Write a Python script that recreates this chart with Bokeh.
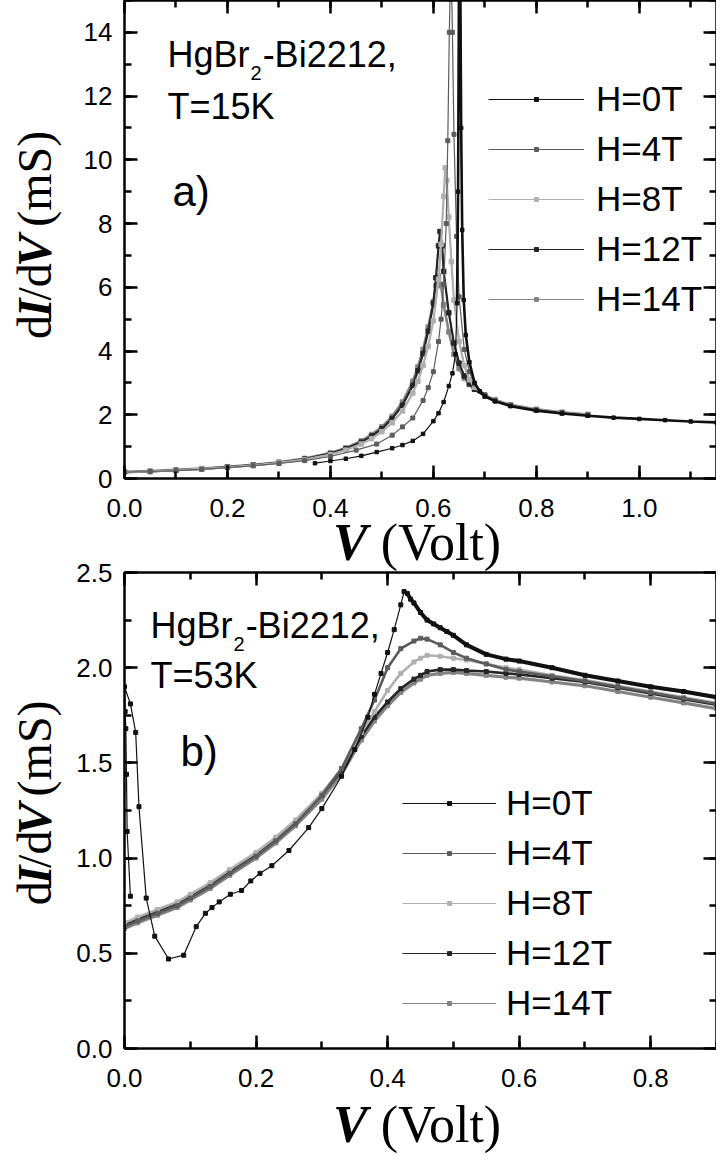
import math
from bokeh.plotting import figure
from bokeh.models import (Label, Legend, LegendItem, LinearAxis, SingleIntervalTicker,
                          PrintfTickFormatter, CustomJSTickFormatter, Range1d, ColumnDataSource)
from bokeh.layouts import column, row
from bokeh.embed import file_html
from bokeh.resources import INLINE

# ---------------- data ----------------
fields = ["H=0T", "H=4T", "H=8T", "H=12T", "H=14T"]

# panel a) T=15K
a_v_0 = [0.37, 0.40, 0.43, 0.46, 0.49, 0.52, 0.54, 0.56, 0.58, 0.60, 0.61, 0.62, 0.63, 0.637, 0.643,
         0.646, 0.648, 0.650, 0.652, 0.654, 0.656, 0.659, 0.663, 0.67, 0.68, 0.69, 0.70, 0.72, 0.75,
         0.80, 0.85, 0.90, 0.95, 1.00, 1.05, 1.10, 1.15]
a_g_0 = [0.48, 0.55, 0.62, 0.71, 0.83, 0.95, 1.05, 1.18, 1.40, 1.80, 2.05, 2.40, 2.90, 3.30, 3.90,
         5.50, 9.00, 16.5, 16.5, 11.0, 7.80, 5.60, 4.50, 3.65, 3.00, 2.74, 2.58, 2.42, 2.27,
         2.13, 2.04, 1.97, 1.91, 1.87, 1.83, 1.79, 1.76]

a_v_4 = [0.00, 0.05, 0.10, 0.15, 0.20, 0.25, 0.30, 0.35, 0.40, 0.45, 0.49, 0.52, 0.54, 0.56, 0.58,
         0.59, 0.60, 0.61, 0.615, 0.62, 0.625, 0.628, 0.631, 0.634, 0.637, 0.64, 0.645, 0.65, 0.66,
         0.67, 0.68, 0.70, 0.72, 0.75, 0.80, 0.85, 0.90]
a_g_4 = [0.20, 0.22, 0.25, 0.29, 0.34, 0.40, 0.47, 0.56, 0.69, 0.89, 1.08, 1.36, 1.62, 1.90, 2.45,
         2.85, 3.35, 4.30, 5.00, 6.10, 8.00, 10.6, 14.0, 16.5, 14.0, 10.8, 7.60, 5.70, 4.05,
         3.35, 2.97, 2.63, 2.46, 2.31, 2.16, 2.07, 2.00]

a_v_8 = [0.00, 0.05, 0.10, 0.15, 0.20, 0.25, 0.30, 0.35, 0.40, 0.43, 0.46, 0.48, 0.50, 0.52, 0.54,
         0.56, 0.57, 0.58, 0.59, 0.60, 0.61, 0.615, 0.62, 0.623, 0.626, 0.63, 0.635, 0.64, 0.65,
         0.66, 0.67, 0.68, 0.70, 0.72, 0.75, 0.80, 0.85, 0.90]
a_g_8 = [0.20, 0.22, 0.26, 0.30, 0.35, 0.41, 0.49, 0.59, 0.75, 0.89, 1.08, 1.25, 1.47, 1.75, 2.12,
         2.68, 3.05, 3.55, 4.15, 4.95, 6.25, 7.35, 8.85, 9.75, 9.35, 8.20, 6.80, 5.60, 4.30,
         3.55, 3.10, 2.86, 2.61, 2.46, 2.31, 2.16, 2.07, 2.00]

a_v_12 = [0.00, 0.05, 0.10, 0.15, 0.20, 0.25, 0.30, 0.35, 0.40, 0.43, 0.46, 0.48, 0.50, 0.52, 0.54,
          0.56, 0.57, 0.58, 0.59, 0.60, 0.605, 0.61, 0.613, 0.617, 0.62, 0.63, 0.64, 0.65, 0.66,
          0.67, 0.68, 0.70, 0.72, 0.75, 0.80, 0.85, 0.90]
a_g_12 = [0.20, 0.22, 0.26, 0.30, 0.36, 0.42, 0.50, 0.61, 0.78, 0.93, 1.14, 1.33, 1.56, 1.88, 2.30,
          2.92, 3.38, 3.92, 4.62, 5.50, 6.30, 7.30, 7.75, 7.30, 6.50, 5.20, 4.25, 3.62, 3.22,
          2.97, 2.80, 2.59, 2.45, 2.30, 2.15, 2.06, 1.99]

a_v_14 = [0.00, 0.05, 0.10, 0.15, 0.20, 0.25, 0.30, 0.35, 0.40, 0.43, 0.46, 0.48, 0.50, 0.52, 0.54,
          0.56, 0.57, 0.58, 0.59, 0.60, 0.605, 0.61, 0.615, 0.62, 0.63, 0.64, 0.65, 0.66, 0.67,
          0.68, 0.70, 0.72, 0.75, 0.80, 0.85, 0.90]
a_g_14 = [0.20, 0.23, 0.27, 0.31, 0.37, 0.43, 0.51, 0.63, 0.80, 0.96, 1.18, 1.38, 1.62, 1.95, 2.40,
          3.05, 3.50, 4.05, 4.75, 5.55, 6.05, 6.35, 6.05, 5.45, 4.60, 3.90, 3.45, 3.15, 2.95,
          2.80, 2.60, 2.46, 2.31, 2.17, 2.08, 2.01]

# panel b) T=53K
b_v_0 = [0.009, 0.004, 0.003, 0.002, 0.001, 0.000, 0.009, 0.017, 0.022, 0.033, 0.046, 0.067, 0.090,
         0.109, 0.123, 0.133, 0.144, 0.161, 0.178, 0.192, 0.206, 0.224, 0.25, 0.28, 0.30, 0.33,
         0.35, 0.37, 0.38, 0.39, 0.40, 0.41, 0.42, 0.425, 0.43, 0.435, 0.44, 0.45, 0.46, 0.47,
         0.48, 0.49, 0.50, 0.52, 0.55, 0.58, 0.60, 0.65, 0.70, 0.75, 0.80, 0.85, 0.90]
b_g_0 = [0.80, 1.14, 1.44, 1.68, 1.77, 1.90, 1.81, 1.66, 1.27, 0.79, 0.59, 0.47, 0.49,
         0.64, 0.71, 0.74, 0.77, 0.81, 0.83, 0.88, 0.92, 0.96, 1.04, 1.16, 1.26, 1.43,
         1.57, 1.74, 1.86, 1.97, 2.08, 2.20, 2.33, 2.40, 2.39, 2.36, 2.34, 2.29, 2.25, 2.23,
         2.21, 2.19, 2.17, 2.12, 2.07, 2.045, 2.035, 2.00, 1.96, 1.93, 1.90, 1.875, 1.845]

b_v = [0.00, 0.02, 0.05, 0.08, 0.10, 0.13, 0.16, 0.20, 0.23, 0.26, 0.30, 0.33, 0.36, 0.38, 0.40,
       0.42, 0.44, 0.45, 0.46, 0.48, 0.50, 0.52, 0.55, 0.58, 0.60, 0.65, 0.70, 0.75, 0.80, 0.85, 0.90]
b_g_4 = [0.64, 0.67, 0.71, 0.75, 0.79, 0.85, 0.92, 1.01, 1.09, 1.18, 1.33, 1.47, 1.68, 1.83, 2.00,
         2.10, 2.14, 2.155, 2.15, 2.12, 2.08, 2.05, 2.02, 1.99, 1.98, 1.955, 1.93, 1.90, 1.87, 1.84, 1.81]
b_g_8 = [0.66, 0.69, 0.73, 0.77, 0.81, 0.87, 0.94, 1.03, 1.11, 1.20, 1.34, 1.47, 1.66, 1.77, 1.88,
         1.97, 2.03, 2.05, 2.065, 2.06, 2.05, 2.04, 2.02, 2.00, 1.99, 1.96, 1.935, 1.905, 1.875, 1.845, 1.815]
b_g_12 = [0.65, 0.68, 0.72, 0.76, 0.80, 0.86, 0.93, 1.02, 1.10, 1.19, 1.33, 1.46, 1.64, 1.74, 1.82,
          1.89, 1.94, 1.96, 1.98, 1.99, 1.99, 1.985, 1.98, 1.97, 1.965, 1.945, 1.925, 1.895, 1.865, 1.835, 1.805]
b_g_14 = [0.63, 0.66, 0.70, 0.74, 0.78, 0.84, 0.91, 1.00, 1.08, 1.17, 1.31, 1.44, 1.62, 1.72, 1.80,
          1.87, 1.92, 1.94, 1.96, 1.97, 1.975, 1.97, 1.96, 1.95, 1.945, 1.925, 1.905, 1.875, 1.845, 1.815, 1.785]

# ---------------- styles / layout ----------------
C0, C4, C8, C12, C14 = "#111111", "#5c5c5c", "#b0b0b0", "#262626", "#838383"
SANS = "Liberation Sans"
SERIF = "Liberation Serif"
MID_SANS = 0.3465     # em distance from alphabetic baseline up to text "middle"
MID_SERIF = 0.3375

YLAB_W = 64
FRAME_L = 124
FRAME_W = 592
STRIP_W = FRAME_L + FRAME_W

TOP = dict(left=FRAME_L, top=0, w=FRAME_W, h=478, xmax=1.15, ymax=15.0)
A_BOTTOM = 50
A_H = TOP["top"] + TOP["h"] + A_BOTTOM          # 528

STRIP_A_OVERLAP = 18
STRIP_A_H = 66
STRIP_A_TOP = A_H - STRIP_A_OVERLAP              # 510

B_OVERLAP = 20
B_TOP = STRIP_A_TOP + STRIP_A_H - B_OVERLAP      # 556
B_TOP_BORDER = 16
BOT = dict(left=FRAME_L, top=B_TOP + B_TOP_BORDER, w=FRAME_W, h=476, xmax=0.9, ymax=2.5)
B_BOTTOM = 50
B_H = B_TOP_BORDER + BOT["h"] + B_BOTTOM         # 542
STRIP_B_OVERLAP = 6
STRIP_B_TOP = B_TOP + B_H - STRIP_B_OVERLAP      # 1092
STRIP_B_H = 68


def to_data(cfg, px, py):
    return ((px - cfg["left"]) / cfg["w"] * cfg["xmax"],
            (cfg["top"] + cfg["h"] - py) / cfg["h"] * cfg["ymax"])


def make_fig(cfg, border_top, border_bottom, xint, yint, xfmt, yfmt):
    p = figure(frame_width=cfg["w"], frame_height=cfg["h"],
               x_range=Range1d(0, cfg["xmax"]), y_range=Range1d(0, cfg["ymax"]),
               output_backend="svg", toolbar_location=None,
               x_axis_location=None, y_axis_location=None,
               min_border_left=FRAME_L - YLAB_W, min_border_right=0,
               min_border_top=border_top, min_border_bottom=border_bottom)
    p.xgrid.visible = False
    p.ygrid.visible = False
    p.outline_line_color = None
    p.border_fill_color = None
    for loc in ("below", "above", "left", "right"):
        isx = loc in ("below", "above")
        ax = LinearAxis(ticker=SingleIntervalTicker(interval=xint if isx else yint, num_minor_ticks=2))
        if loc in ("below", "left"):
            ax.formatter = PrintfTickFormatter(format=xfmt if isx else yfmt)
            ax.major_label_standoff = 20 if isx else 12
        else:
            ax.formatter = CustomJSTickFormatter(code="return ''")
            ax.major_label_standoff = 0
        ax.axis_line_width = 2.5
        ax.axis_line_color = "black"
        ax.major_tick_in = 13
        ax.major_tick_out = 0
        ax.minor_tick_in = 7
        ax.minor_tick_out = 0
        ax.major_tick_line_width = 2.5
        ax.minor_tick_line_width = 2.5
        ax.major_label_text_font = SANS
        ax.major_label_text_font_size = "26px"
        ax.major_label_text_color = "black"
        p.add_layout(ax, loc)
    return p


def strip(w, h):
    f = figure(width=w, height=h, x_range=Range1d(0, w), y_range=Range1d(0, h),
               output_backend="svg", toolbar_location=None, min_border=0,
               x_axis_location=None, y_axis_location=None)
    f.xgrid.visible = False
    f.ygrid.visible = False
    f.outline_line_color = None
    f.background_fill_color = None
    f.border_fill_color = None
    return f


def draw(p, v, g, color, ms, thick_w=None, thr=None):
    src = ColumnDataSource(dict(v=v, g=g))
    if thick_w is not None:
        if thr is None:
            p.line("v", "g", source=src, line_color=color, line_width=thick_w)
        else:
            vv = [a for a in v if a >= thr]
            gg = [b for a, b in zip(v, g) if a >= thr]
            p.line(vv, gg, line_color=color, line_width=thick_w)
    lr = p.line("v", "g", source=src, line_color=color, line_width=1.2)
    sr = p.scatter("v", "g", source=src, marker="square", size=ms, color=color)
    return [lr, sr]


def label(p, x, y, txt, size, font=SANS, style="normal", angle=0.0):
    p.add_layout(Label(x=x, y=y, text=txt, text_font=font, text_font_size=f"{size}px",
                       text_font_style=style, text_color="black", text_align="left",
                       text_baseline="middle", angle=angle))


def add_text(p, cfg, px, base_py, txt, size, font=SANS, style="normal"):
    mid = MID_SANS if font == SANS else MID_SERIF
    x, y = to_data(cfg, px, base_py - mid * size)
    label(p, x, y, txt, size, font, style)


def add_legend(p, rends, loc, gw, standoff):
    items = [LegendItem(label=lab, renderers=r) for lab, r in zip(fields, rends)]
    leg = Legend(items=items, location=loc, glyph_width=gw, glyph_height=10, label_height=40,
                 spacing=10, padding=0, margin=0, label_standoff=standoff,
                 border_line_color=None, background_fill_alpha=0,
                 label_text_font=SANS, label_text_font_size="35px", label_text_color="black")
    p.add_layout(leg)


def annot_block(p, cfg, x0, base1, base2, tag, tagx, tagbase):
    fs = 36
    add_text(p, cfg, x0, base1, "HgBr", fs)
    xs = x0 + 2.278 * fs + 1
    add_text(p, cfg, xs, base1 + 13, "2", 20)
    add_text(p, cfg, xs + 0.556 * 20 + 1, base1, "-Bi2212,", fs)
    add_text(p, cfg, x0, base2, tag[0], fs)
    add_text(p, cfg, tagx, tagbase, tag[1], 42)


def x_title(f, h, xcenter, baseline_local):
    fs = 52
    w_v, w_sp, w_rest = 0.667 * fs, 0.25 * fs, 2.444 * fs
    x0 = xcenter - (w_v + w_sp + w_rest) / 2
    y = h - (baseline_local - MID_SERIF * fs)
    label(f, x0, y, "V", fs, SERIF, "bold italic")
    label(f, x0 + w_v + w_sp, y, "(Volt)", fs, SERIF)


def y_title(f, h, center_local, base_x):
    fs = 48
    pieces = [("d", 0.5, 0.0, "normal"), ("I", 0.389, 0.0, "bold italic"), ("/d", 0.778, 0.0, "normal"),
              ("V", 0.667, 0.0, "bold italic"), ("(mS)", 2.0, 0.25, "normal")]
    total = sum(w + s for _, w, s, _ in pieces) * fs
    y = h - (center_local + total / 2)
    x = base_x - MID_SERIF * fs
    for t, w, s, st in pieces:
        y += s * fs
        label(f, x, y, t, fs, SERIF, st, angle=math.pi / 2)
        y += w * fs


# ---------------- panel a ----------------
p1 = make_fig(TOP, 0, A_BOTTOM, 0.2, 2, "%.1f", "%d")
r14 = draw(p1, a_v_14, a_g_14, C14, 4.5, 2.6)
r12 = draw(p1, a_v_12, a_g_12, C12, 4.5, 2.2)
r8 = draw(p1, a_v_8, a_g_8, C8, 4.5, 2.2)
r4 = draw(p1, a_v_4, a_g_4, C4, 4)
r0 = draw(p1, a_v_0, a_g_0, C0, 3.5, 2.6, 0.646)
add_legend(p1, [r0, r4, r8, r12, r14], (364, 159), 96, 12)
annot_block(p1, TOP, 167, 66, 118, ("T=15K", "a)"), 172, 206)

ylab_a = strip(YLAB_W, A_H)
y_title(ylab_a, A_H, 234 + 30, 50)

strip_a = strip(STRIP_W, STRIP_A_H)
x_title(strip_a, STRIP_A_H, 420, 560 - STRIP_A_TOP)

# ---------------- panel b ----------------
p2 = make_fig(BOT, B_TOP_BORDER, B_BOTTOM, 0.2, 0.5, "%.1f", "%.1f")
q14 = draw(p2, b_v, b_g_14, C14, 4, 3.2)
q12 = draw(p2, b_v, b_g_12, C12, 4, 2.6)
q8 = draw(p2, b_v, b_g_8, C8, 4, 2.6)
q4 = draw(p2, b_v, b_g_4, C4, 4, 2.6)
q0 = draw(p2, b_v_0, b_g_0, C0, 4, 4.0, 0.43)
add_legend(p2, [q0, q4, q8, q12, q14], (278, 25), 94, 10)
annot_block(p2, BOT, 150, 637, 687, ("T=53K", "b)"), 180, 766)

ylab_b = strip(YLAB_W, B_H)
y_title(ylab_b, B_H, 795 + 30 - B_TOP, 50)

strip_b = strip(STRIP_W, STRIP_B_H)
x_title(strip_b, STRIP_B_H, 420, 1142 - STRIP_B_TOP)

row_a = row(ylab_a, p1, spacing=0)
row_b = row(ylab_b, p2, spacing=0)
strip_a.margin = (-STRIP_A_OVERLAP, 0, 0, 0)
row_b.margin = (-B_OVERLAP, 0, 0, 0)
strip_b.margin = (-STRIP_B_OVERLAP, 0, 0, 0)

layout = column(row_a, strip_a, row_b, strip_b, spacing=0)
open("out.html", "w").write(file_html(layout, INLINE))
